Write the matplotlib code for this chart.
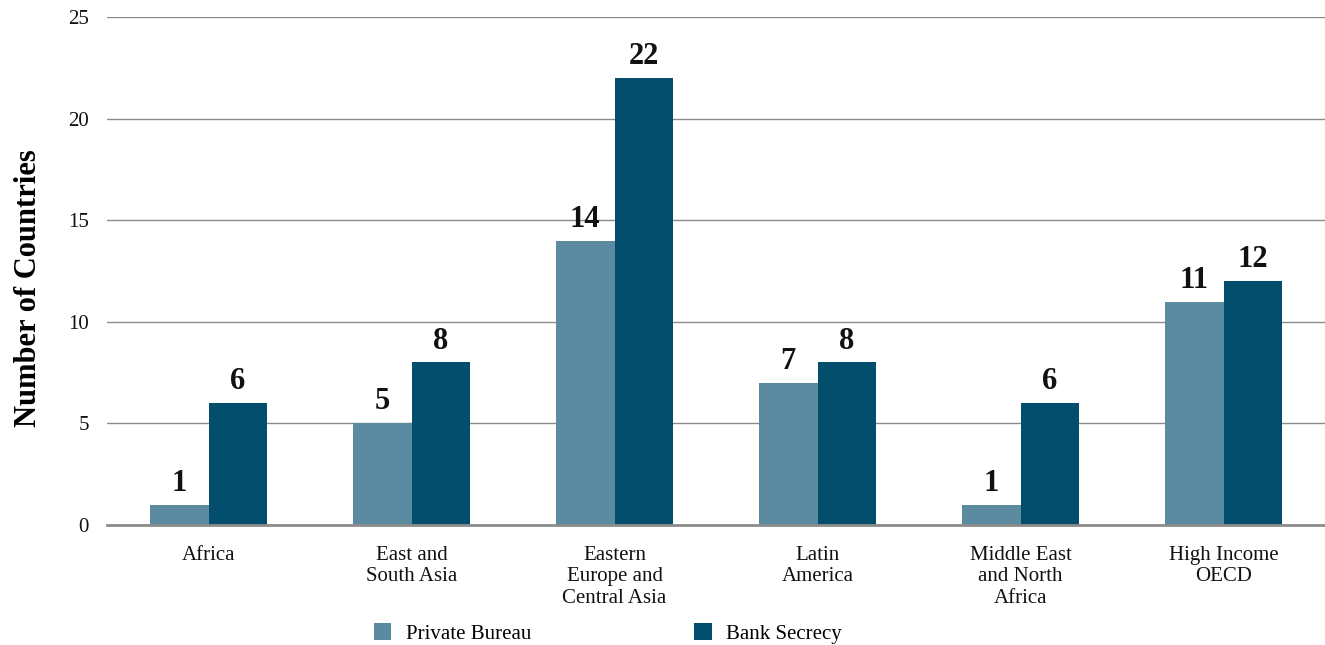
import matplotlib
matplotlib.use("Agg")
import matplotlib.pyplot as plt
import numpy as np

categories = ["Africa", "East and\nSouth Asia", "Eastern\nEurope and\nCentral Asia",
              "Latin\nAmerica", "Middle East\nand North\nAfrica", "High Income\nOECD"]
private_bureau = [1, 5, 14, 7, 1, 11]
bank_secrecy = [6, 8, 22, 8, 6, 12]
series_names = ["Private Bureau", "Bank Secrecy"]
yticks = [0, 5, 10, 15, 20, 25]

c_light = "#5B8BA1"
c_dark = "#034E6D"

plt.rcParams['font.family'] = ['Liberation Serif', 'DejaVu Serif']

fig = plt.figure(figsize=(13.25, 6.45), dpi=100)
ax = fig.add_axes([0.0808, 0.186, 0.9192, 0.7876])

x = np.arange(len(categories))
w = 0.29
b1 = ax.bar(x - w/2, private_bureau, w, color=c_light, label=series_names[0], zorder=3)
b2 = ax.bar(x + w/2, bank_secrecy, w, color=c_dark, label=series_names[1], zorder=3)

for bars, vals in ((b1, private_bureau), (b2, bank_secrecy)):
    for r, v in zip(bars, vals):
        ax.annotate(str(v), (r.get_x() + r.get_width()/2, v), xytext=(0, 5),
                    textcoords="offset points", ha="center", va="bottom",
                    fontsize=22, fontweight="bold", color="#111111")

ax.set_xlim(-0.5, len(categories) - 0.5)
ax.set_ylim(0, 25)
ax.set_yticks(yticks)
ax.set_yticklabels([str(t) for t in yticks], fontsize=15)
ax.set_xticks(x)
ax.set_xticklabels(categories, fontsize=15, linespacing=1.18, va="top")
ax.tick_params(axis="both", length=0, colors="#111111")
ax.tick_params(axis="y", pad=13)
ax.tick_params(axis="x", pad=15)

ax.grid(axis="y", color="#8c8c8c", linewidth=1, zorder=0)
for s in ("top", "right", "left"):
    ax.spines[s].set_visible(False)
ax.spines["bottom"].set_color("#8c8c8c")
ax.spines["bottom"].set_linewidth(2)
ax.spines["bottom"].set_zorder(4)

ax.set_ylabel("Number of Countries", fontsize=22, fontweight="bold")
ax.yaxis.set_label_coords(-0.0526, 0.466)

fig.legend(handles=[b1, b2], labels=series_names, loc="center left", bbox_to_anchor=(0.282, 0.018),
           ncol=2, frameon=False, fontsize=15, handlelength=0.85, handleheight=0.85,
           columnspacing=7.8, handletextpad=0.7, borderaxespad=0, borderpad=0)

fig.savefig("out.png", dpi=100)
